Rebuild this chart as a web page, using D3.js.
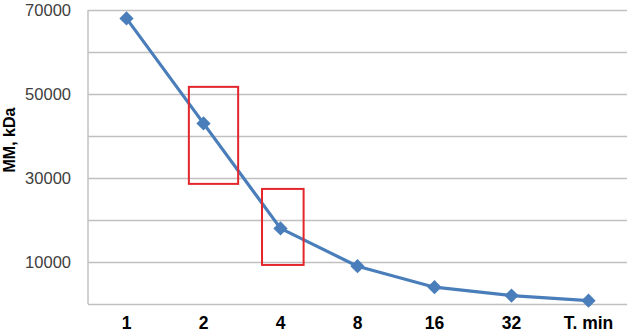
<!DOCTYPE html>
<html>
<head>
<meta charset="utf-8">
<script src="https://cdn.jsdelivr.net/npm/d3@7"></script>
<style>
  html, body { margin: 0; padding: 0; background: #ffffff; }
  svg { display: block; }
</style>
</head>
<body>
<svg id="chart" width="639" height="335"></svg>
<script>
// ---- data ----
const categories = ["1", "2", "4", "8", "16", "32", "T. min"];
const mmValues = [68000, 43000, 18000, 9000, 4000, 2000, 800];
const yTickValues = [0, 10000, 20000, 30000, 40000, 50000, 60000, 70000];
const yTickLabels = ["", "10000", "", "30000", "", "50000", "", "70000"];
const yAxisTitle = "MM, kDa";
// highlight boxes: category-index range and value range
const boxIndexFrom = [0.81, 1.76];
const boxIndexTo = [1.45, 2.30];
const boxValueFrom = [28600, 9300];
const boxValueTo = [51700, 27400];

// ---- layout ----
const svg = d3.select("#chart");
const margin = { left: 88, right: 12, top: 10, bottom: 31 };
const W = 639, H = 335;
const x = d3.scaleBand().domain(categories).range([margin.left, W - margin.right]).padding(0);
const xi = d3.scaleLinear().domain([0, 1]).range([x(categories[0]) + x.bandwidth() / 2, x(categories[1]) + x.bandwidth() / 2]);
const y = d3.scaleLinear().domain([0, 70000]).range([H - margin.bottom, margin.top]);
const font = "Liberation Sans, Arial, sans-serif";

// gridlines
const yAxis = d3.axisLeft(y).tickValues(yTickValues).tickSize(-(W - margin.left - margin.right))
  .tickFormat((d, i) => yTickLabels[i]).tickPadding(17);
const gy = svg.append("g").attr("transform", `translate(${margin.left},0)`).call(yAxis);
gy.select(".domain").remove();
gy.selectAll(".tick line").attr("stroke", "#c0c0c0").attr("stroke-width", 1.5);
gy.selectAll(".tick text").attr("font-family", font)
  .attr("font-size", 16.5).attr("fill", "#404040");

// left axis line
svg.append("line").attr("x1", margin.left).attr("x2", margin.left)
  .attr("y1", y(70000)).attr("y2", y(0)).attr("stroke", "#c0c0c0").attr("stroke-width", 1.5);

// x axis labels
const xAxis = d3.axisBottom(x).tickSize(0).tickPadding(13);
const gx = svg.append("g").attr("transform", `translate(0,${y(0)})`).call(xAxis);
gx.select(".domain").remove();
gx.selectAll(".tick text").attr("font-family", font)
  .attr("font-size", 17.5).attr("font-weight", "bold").attr("fill", "#000");

// y title
svg.append("text").attr("transform", `translate(15,140) rotate(-90)`)
  .attr("text-anchor", "middle").attr("font-family", font)
  .attr("font-size", 16).attr("font-weight", "bold").text(yAxisTitle);

// line
const cx = d => x(d) + x.bandwidth() / 2;
const line = d3.line().x((d, i) => cx(categories[i])).y(d => y(d));
svg.append("path").datum(mmValues).attr("d", line).attr("fill", "none")
  .attr("stroke", "#4a7ebb").attr("stroke-width", 3.2).attr("stroke-linejoin", "round");

// markers
svg.selectAll(".pt").data(mmValues).join("path").attr("class", "pt")
  .attr("d", d3.symbol().type(d3.symbolDiamond2).size(130))
  .attr("transform", (d, i) => `translate(${cx(categories[i])},${y(d)})`)
  .attr("fill", "#4a7ebb");

// highlight boxes
svg.selectAll(".box").data(boxIndexFrom).join("rect").attr("class", "box")
  .attr("x", (d, i) => xi(boxIndexFrom[i]))
  .attr("width", (d, i) => xi(boxIndexTo[i]) - xi(boxIndexFrom[i]))
  .attr("y", (d, i) => y(boxValueTo[i]))
  .attr("height", (d, i) => y(boxValueFrom[i]) - y(boxValueTo[i]))
  .attr("fill", "none").attr("stroke", "#e3262b").attr("stroke-width", 2);
</script>
</body>
</html>
